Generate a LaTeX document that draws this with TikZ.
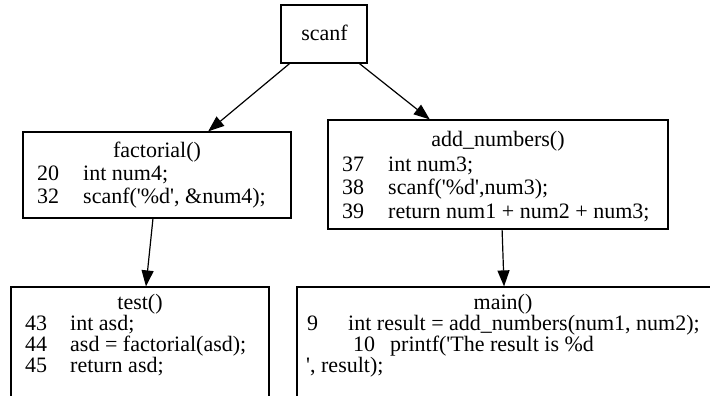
\documentclass[tikz,border=0pt]{standalone}
\usepackage{fontspec}
\setmainfont{Liberation Serif}
\usetikzlibrary{arrows.meta,calc}
\newcommand{\sq}{\textquotesingle}
\begin{document}
\begin{tikzpicture}[x=1pt,y=-1pt,
  box/.style={draw,line width=1.2pt,inner sep=0pt},
  txt/.style={anchor=base west,inner sep=0pt,font=\fontsize{22}{24}\selectfont},
  ttl/.style={anchor=base,inner sep=0pt,font=\fontsize{22}{24}\selectfont},
  edge/.style={line width=1.2pt,-{Triangle[length=16pt,width=12pt]}}]
\useasboundingbox (0,0) rectangle (710,396);

% function boxes
\node[box,minimum width=86pt,minimum height=58pt] (scanf) at (324,34) {};
\node[box,minimum width=268pt,minimum height=86pt] (fact) at (157,175) {};
\node[box,minimum width=340pt,minimum height=109pt] (addn) at (498,174.5) {};
\node[box,minimum width=258pt,minimum height=110pt] (test) at (140,342) {};
\node[box,minimum width=420pt,minimum height=110pt] (main) at (507,342) {};

% labels
\node[ttl] (scanfT) at (324.5,41) {scanf};

\node[ttl] (factT) at (157,157.5) {factorial()};
\node[txt] (f1n) at (37,180) {20};
\node[txt] (f1c) at (83,180) {int num4;};
\node[txt] (f2n) at (37,203) {32};
\node[txt] (f2c) at (83,203) {scanf(\sq\%d\sq, \&num4);};

\node[ttl] (addT) at (498,146.5) {add\_numbers()};
\node[txt] (a1n) at (342,171) {37};
\node[txt] (a1c) at (388,171) {int num3;};
\node[txt] (a2n) at (342,194.5) {38};
\node[txt] (a2c) at (388,194.5) {scanf(\sq\%d\sq,num3);};
\node[txt] (a3n) at (342,218) {39};
\node[txt] (a3c) at (388,218) {return num1 + num2 + num3;};

\node[ttl] (testT) at (140,309) {test()};
\node[txt] (t1n) at (25,330) {43};
\node[txt] (t1c) at (70,330) {int asd;};
\node[txt] (t2n) at (25,351) {44};
\node[txt] (t2c) at (70,351) {asd = factorial(asd);};
\node[txt] (t3n) at (25,372.5) {45};
\node[txt] (t3c) at (70,372.5) {return asd;};

\node[ttl] (mainT) at (503,309) {main()};
\node[txt] (m1n) at (307,330) {9};
\node[txt] (m1c) at (348,330) {int result = add\_numbers(num1, num2);};
\node[txt] (m2n) at (353,351) {10};
\node[txt] (m2c) at (390,351) {printf(\sq The result is \%d};
\node[txt] (m3c) at (306,372.5) {\sq, result);};

% call edges
\draw[edge] ($(scanf.south west)!0.105!(scanf.south east)$) -- ($(fact.north west)!0.69!(fact.north east)$);
\draw[edge] ($(scanf.south west)!0.907!(scanf.south east)$) -- ($(addn.north west)!0.30!(addn.north east)$);
\draw[edge] ($(fact.south west)!0.485!(fact.south east)$) -- ($(test.north west)!0.523!(test.north east)$);
\draw[edge] ($(addn.south west)!0.512!(addn.south east)$) -- ($(main.north west)!0.493!(main.north east)$);
\end{tikzpicture}
\end{document}
